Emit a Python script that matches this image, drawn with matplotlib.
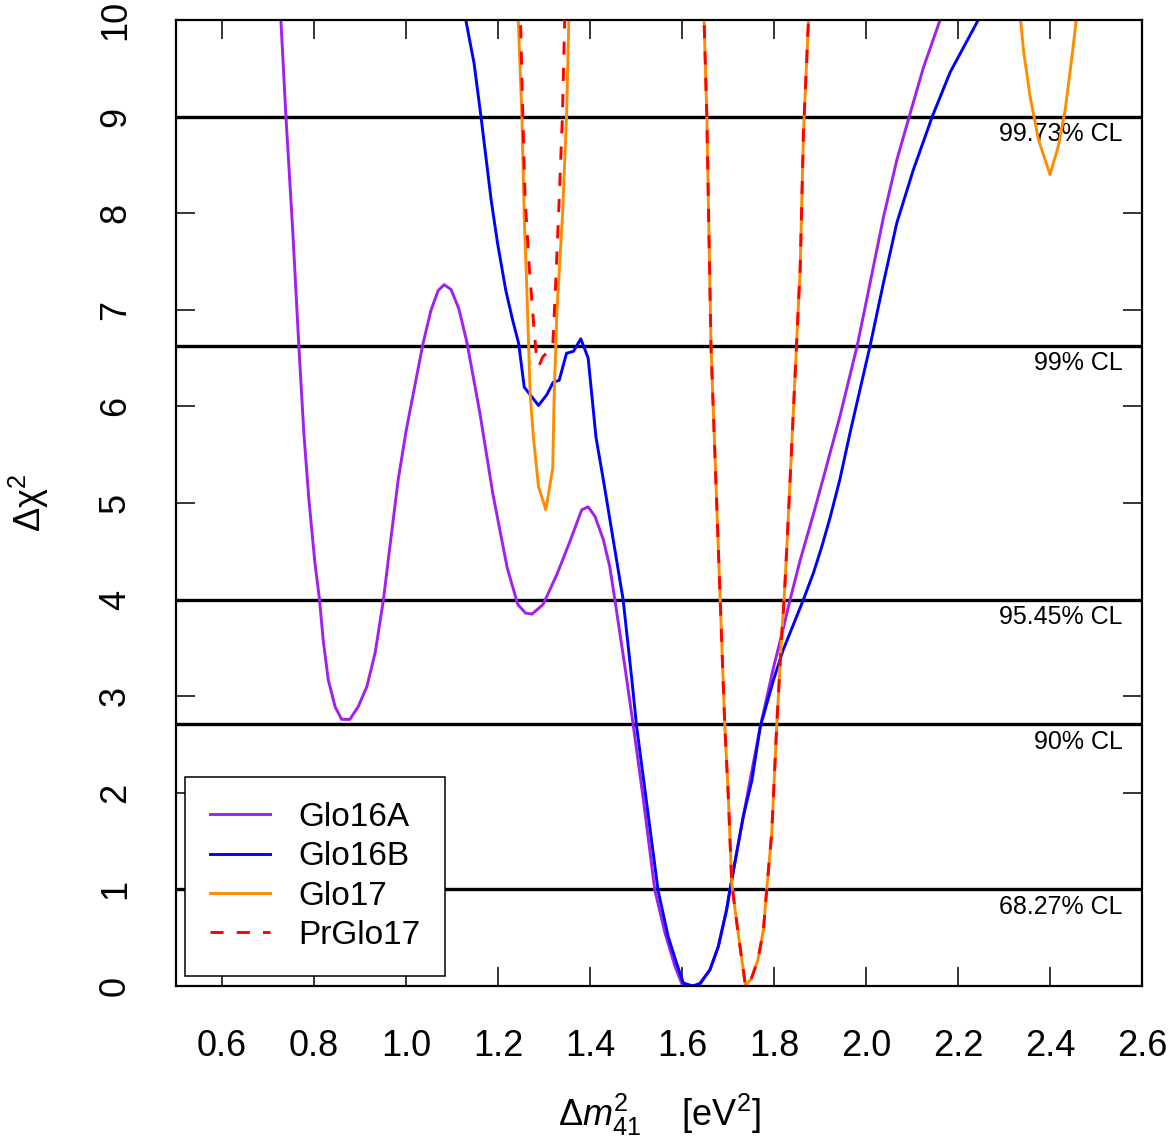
import numpy as np
import matplotlib
matplotlib.use("Agg")
import matplotlib.pyplot as plt

plt.rcParams['font.family'] = ['Liberation Sans', 'DejaVu Sans']
plt.rcParams['mathtext.fontset'] = 'custom'
plt.rcParams['mathtext.rm'] = 'Liberation Sans'
plt.rcParams['mathtext.it'] = 'Liberation Sans:italic'

# Glo16A
glo16a_x = [0.720, 0.728, 0.739, 0.754, 0.767, 0.778, 0.789, 0.802, 0.812, 0.820,
            0.831, 0.846, 0.860, 0.878, 0.896, 0.915, 0.933, 0.951, 0.965, 0.983,
            1.000, 1.017, 1.037, 1.054, 1.070, 1.083, 1.098, 1.115, 1.133, 1.161,
            1.189, 1.220, 1.243, 1.260, 1.274, 1.298, 1.328, 1.357, 1.382, 1.396,
            1.411, 1.429, 1.443, 1.454, 1.476, 1.494, 1.516, 1.541, 1.563, 1.585,
            1.600, 1.624, 1.639, 1.661, 1.679, 1.697, 1.704, 1.733, 1.748, 1.770,
            1.799, 1.817, 1.835, 1.857, 1.886, 1.913, 1.943, 1.981, 2.009, 2.038,
            2.067, 2.094, 2.125, 2.161, 2.170]
glo16a_y = [10.6, 10.0, 9.0, 7.8, 6.63, 5.72, 5.03, 4.38, 4.0, 3.58,
            3.17, 2.89, 2.76, 2.76, 2.89, 3.10, 3.45, 4.0, 4.55, 5.24,
            5.74, 6.16, 6.65, 6.99, 7.20, 7.26, 7.21, 7.01, 6.65, 5.92,
            5.09, 4.33, 3.95, 3.86, 3.85, 3.95, 4.26, 4.61, 4.93, 4.96,
            4.86, 4.62, 4.34, 4.0, 3.30, 2.70, 1.93, 0.99, 0.55, 0.20,
            0.02, 0.0, 0.03, 0.17, 0.41, 0.79, 0.99, 1.75, 2.13, 2.68,
            3.30, 3.64, 4.0, 4.41, 4.89, 5.36, 5.89, 6.63, 7.28, 7.96,
            8.55, 9.0, 9.51, 10.0, 10.2]

# Glo16B
glo16b_x = [1.125, 1.130, 1.148, 1.163, 1.185, 1.199, 1.217, 1.232, 1.245, 1.257,
            1.288, 1.306, 1.320, 1.333, 1.349, 1.364, 1.380, 1.396, 1.413, 1.429,
            1.447, 1.465, 1.472, 1.491, 1.501, 1.548, 1.570, 1.588, 1.603, 1.624,
            1.639, 1.661, 1.679, 1.697, 1.704, 1.733, 1.752, 1.770, 1.799, 1.820,
            1.864, 1.886, 1.904, 1.922, 1.943, 1.965, 2.009, 2.038, 2.067, 2.103,
            2.144, 2.183, 2.244, 2.250]
glo16b_y = [10.3, 10.0, 9.55, 9.0, 8.14, 7.69, 7.20, 6.89, 6.65, 6.20,
            6.01, 6.12, 6.25, 6.27, 6.55, 6.57, 6.70, 6.50, 5.68, 5.24,
            4.72, 4.20, 4.0, 3.17, 2.70, 0.99, 0.51, 0.24, 0.03, 0.0,
            0.02, 0.17, 0.41, 0.79, 0.99, 1.75, 2.13, 2.68, 3.17, 3.48,
            4.0, 4.28, 4.55, 4.85, 5.24, 5.72, 6.63, 7.28, 7.90, 8.45,
            9.0, 9.46, 10.0, 10.1]

# Glo17
glo17_x = [1.238, 1.244, 1.252, 1.257, 1.262, 1.270, 1.277, 1.288, 1.304, 1.319,
           1.322, 1.328, 1.340, 1.349, 1.354, 1.358,
           1.645, 1.648, 1.654, 1.663, 1.683, 1.693, 1.701, 1.708, 1.720, 1.738,
           1.751, 1.765, 1.777, 1.784, 1.795, 1.806, 1.817, 1.822, 1.828, 1.835,
           1.857, 1.864, 1.875, 1.878,
           2.333, 2.336, 2.343, 2.357, 2.375, 2.400, 2.418, 2.433, 2.447, 2.457,
           2.460]
glo17_y = [10.6, 10.0, 9.0, 7.96, 7.31, 6.12, 5.68, 5.17, 4.93, 5.36,
           6.10, 6.97, 7.96, 9.0, 10.0, 10.6,
           10.6, 10.0, 9.0, 6.63, 4.0, 2.70, 1.93, 1.07, 0.62, 0.0,
           0.08, 0.27, 0.58, 0.99, 1.58, 2.70, 3.65, 4.0, 4.55, 5.24,
           7.44, 8.83, 10.0, 10.6,
           10.6, 10.0, 9.66, 9.2, 8.76, 8.40, 8.69, 9.07, 9.59, 10.0,
           10.6]

# PrGlo17
prglo17_x = [1.247, 1.249, 1.254, 1.259, 1.268, 1.279, 1.285, 1.290, 1.297, 1.319,
             1.326, 1.333, 1.340, 1.345, 1.347,
             1.645, 1.648, 1.654, 1.663, 1.683, 1.693, 1.701, 1.708, 1.720, 1.738,
             1.751, 1.765, 1.777, 1.784, 1.795, 1.806, 1.817, 1.822, 1.828, 1.835,
             1.857, 1.864, 1.875, 1.878]
prglo17_y = [10.6, 10.0, 9.0, 8.14, 7.44, 6.76, 6.45, 6.43, 6.51, 6.62,
             7.34, 8.14, 9.0, 10.0, 10.6,
             10.6, 10.0, 9.0, 6.63, 4.0, 2.70, 1.93, 1.07, 0.62, 0.0,
             0.08, 0.27, 0.58, 0.99, 1.58, 2.70, 3.65, 4.0, 4.55, 5.24,
             7.44, 8.83, 10.0, 10.6]

# confidence levels
cl_values = [1.0, 2.71, 4.0, 6.63, 9.0]
cl_labels = ["68.27% CL", "90% CL", "95.45% CL", "99% CL", "99.73% CL"]

x_ticks = [0.6, 0.8, 1.0, 1.2, 1.4, 1.6, 1.8, 2.0, 2.2, 2.4, 2.6]
y_ticks = list(range(0, 11))

fig = plt.figure(figsize=(11.69, 11.36), dpi=100)
ax = fig.add_axes([176 / 1169, 1 - 986 / 1136, 966 / 1169, 966 / 1136])

# CL lines and labels
for v, lab in zip(cl_values, cl_labels):
    ax.axhline(v, color='black', lw=2.4, zorder=1)
    ax.annotate(lab, xy=(2.558, v), xytext=(0, -12.5), textcoords='offset points',
                ha='right', va='center', fontsize=18, zorder=1)

ax.plot(glo16a_x, glo16a_y, color='#A020F0', lw=2.1, label='Glo16A', zorder=2)
ax.plot(glo16b_x, glo16b_y, color='#0000FF', lw=2.1, label='Glo16B', zorder=2)
ax.plot(glo17_x, glo17_y, color='#FF8C00', lw=2.1, label='Glo17', zorder=2)
ax.plot(prglo17_x, prglo17_y, color='#FF0000', lw=2.1, label='PrGlo17',
        dashes=(4.5, 4.5), zorder=3)

ax.set_xlim(0.5, 2.6)
ax.set_ylim(0, 10)
ax.set_xticks(x_ticks)
ax.set_xticklabels([f"{t:.1f}" for t in x_ticks])
ax.set_yticks(y_ticks)
ax.tick_params(direction='in', length=14, width=1.1, labelsize=26, pad=31,
               top=True, right=True)
ax.tick_params(axis='y', labelrotation=90)
for lbl in ax.get_yticklabels():
    lbl.set_va('center')
for s in ax.spines.values():
    s.set_linewidth(1.6)

ax.set_xlabel(r'$\Delta m^2_{41}$    [eV$^2$]', fontsize=26, labelpad=20)
ax.set_ylabel(r'$\Delta\mathrm{χ}^2$', fontsize=26, labelpad=34)

leg = ax.legend(loc='lower left', bbox_to_anchor=(0.0093, 0.0104), fontsize=24,
                frameon=True, fancybox=False, framealpha=1, edgecolor='black',
                handlelength=1.8, handletextpad=0.85, labelspacing=0.25,
                borderpad=0.75, borderaxespad=0)
leg.get_frame().set_linewidth(1.1)
leg.set_zorder(5)

fig.savefig('out.png', dpi=100)
